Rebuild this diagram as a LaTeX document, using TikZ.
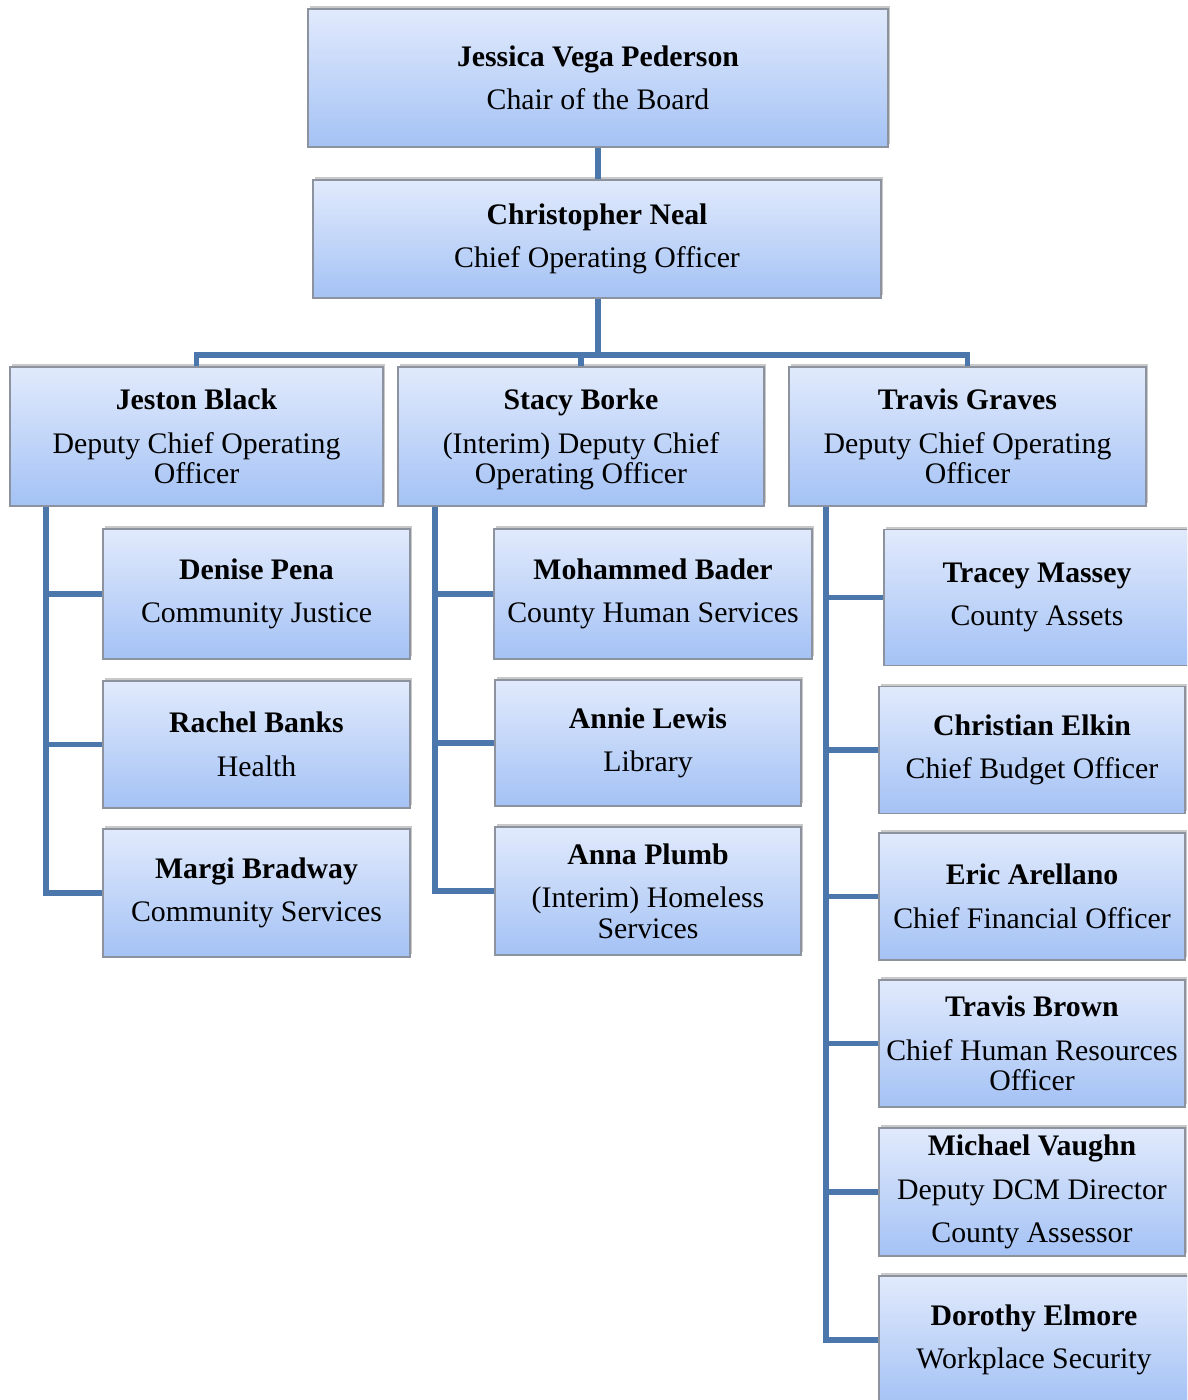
\documentclass[tikz,border=0pt]{standalone}
\usepackage{fontspec}
\setmainfont{Liberation Serif}
\usetikzlibrary{shadows}
\definecolor{boxtop}{RGB}{225,234,252}
\definecolor{boxbot}{RGB}{164,194,245}
\definecolor{boxedge}{RGB}{140,146,158}
\definecolor{linkblue}{RGB}{76,119,172}
\tikzset{
  orgbox/.style={draw=boxedge, line width=1.2pt, top color=boxtop, bottom color=boxbot,
    align=center, inner sep=0pt, font=\fontsize{29.8}{30.5}\selectfont,
    drop shadow={shadow xshift=2pt, shadow yshift=3pt, opacity=0.35, fill=black!60}},
  orgline/.style={draw=linkblue, line width=5.5pt}
}
\newcommand{\who}[2]{{\bfseries #1}\\[13pt]#2}
\begin{document}
\begin{tikzpicture}[x=1pt,y=-1pt]
  \path[use as bounding box, clip] (0,0) rectangle (1187,1400);
  \fill[white] (0,0) rectangle (1187,1400);

  \coordinate (bar) at (598,355);
  \coordinate (jspine) at (46,0);
  \coordinate (sspine) at (435,0);
  \coordinate (tspine) at (826,0);

  \node[orgbox, minimum width=580, minimum height=138] (chair) at (598,78) {\who{Jessica Vega Pederson}{Chair of the Board}};
  \node[orgbox, minimum width=568, minimum height=118] (coo) at (597,239) {\who{Christopher Neal}{Chief Operating Officer}};

  \node[orgbox, minimum width=373, minimum height=139] (jeston) at (196.5,436.5) {\who{Jeston Black}{Deputy Chief Operating\\Officer}};
  \node[orgbox, minimum width=366, minimum height=139] (stacy) at (581,436.5) {\who{Stacy Borke}{(Interim) Deputy Chief\\\smash{Operating Officer}}};
  \node[orgbox, minimum width=357, minimum height=139] (travisg) at (967.5,436.5) {\who{Travis Graves}{Deputy Chief Operating\\Officer}};

  \node[orgbox, minimum width=307, minimum height=130] (denise) at (256.5,594) {\who{Denise Pena}{Community Justice}};
  \node[orgbox, minimum width=307, minimum height=127] (rachel) at (256.5,744.5) {\who{Rachel Banks}{Health}};
  \node[orgbox, minimum width=307, minimum height=128] (margi) at (256.5,893) {\who{Margi Bradway}{Community Services}};

  \node[orgbox, minimum width=318, minimum height=130] (mohammed) at (653,594) {\who{Mohammed Bader}{County Human Services}};
  \node[orgbox, minimum width=306, minimum height=126] (annie) at (648,743) {\who{Annie Lewis}{Library}};
  \node[orgbox, minimum width=306, minimum height=128] (anna) at (648,891) {\who{Anna Plumb}{(Interim) Homeless\\Services}};

  \node[orgbox, minimum width=306, minimum height=136] (tracey) at (1037,597.5) {\who{Tracey Massey}{County Assets}};
  \node[orgbox, minimum width=306, minimum height=127] (christian) at (1032,750) {\who{Christian Elkin}{Chief Budget Officer}};
  \node[orgbox, minimum width=306, minimum height=127] (eric) at (1032,896.5) {\who{Eric Arellano}{Chief Financial Officer}};
  \node[orgbox, minimum width=306, minimum height=127] (travisb) at (1032,1043.5) {\who{Travis Brown}{Chief Human Resources\\Officer}};
  \node[orgbox, minimum width=306, minimum height=128] (michael) at (1032,1192) {\who{Michael Vaughn}{Deputy DCM Director\\[13pt]County Assessor}};
  \node[orgbox, minimum width=310, minimum height=128] (dorothy) at (1034,1340) {\who{Dorothy Elmore}{Workplace Security}};

  \draw[orgline] (chair.south) -- (chair.south |- coo.north);
  \draw[orgline] (coo.south -| bar) -- (bar);
  \draw[orgline] (jeston.north) |- (bar) -| (travisg.north);
  \draw[orgline] (stacy.north) -- (stacy.north |- bar);

  \draw[orgline] (jeston.south -| jspine) |- (margi.west);
  \foreach \c in {denise,rachel}
    \draw[orgline] (\c.west) -- (\c.west -| jspine);
  \draw[orgline] (stacy.south -| sspine) |- (anna.west);
  \foreach \c in {mohammed,annie}
    \draw[orgline] (\c.west) -- (\c.west -| sspine);
  \draw[orgline] (travisg.south -| tspine) |- (dorothy.west);
  \foreach \c in {tracey,christian,eric,travisb,michael}
    \draw[orgline] (\c.west) -- (\c.west -| tspine);
\end{tikzpicture}
\end{document}
